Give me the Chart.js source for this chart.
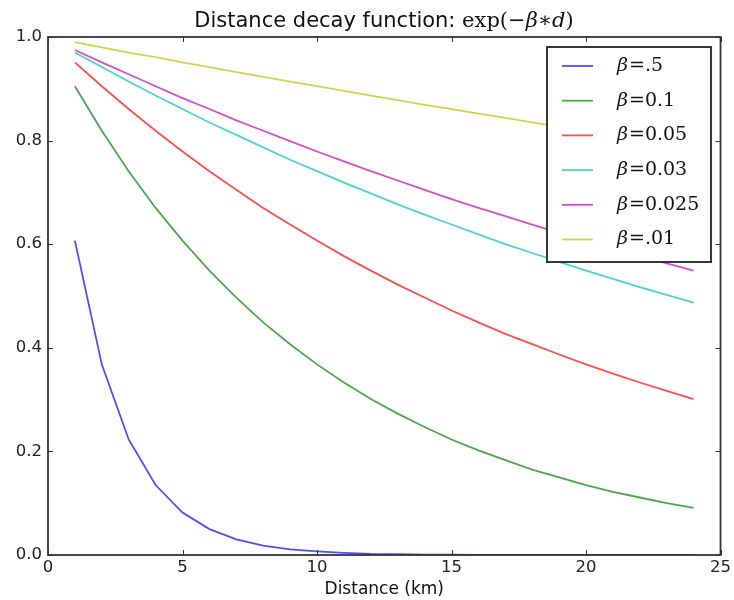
<!DOCTYPE html>
<html>
<head>
<meta charset="utf-8">
<script src="https://cdn.jsdelivr.net/npm/chart.js@4/dist/chart.umd.min.js"></script>
<style>
  html, body { margin: 0; padding: 0; background: #fff; }
  #wrap { width: 734px; height: 600px; }
</style>
</head>
<body>
<div id="wrap"><canvas id="chart"></canvas></div>
<script>
const distances = [1, 2, 3, 4, 5, 6, 7, 8, 9, 10, 11, 12, 13, 14, 15, 16, 17, 18, 19, 20, 21, 22, 23, 24];

const seriesLabels = ["β=.5", "β=0.1", "β=0.05", "β=0.03", "β=0.025", "β=.01"];

const beta050 = [0.607, 0.368, 0.223, 0.135, 0.082, 0.050, 0.030, 0.018, 0.011, 0.007, 0.004, 0.002,
  0.0015, 0.0009, 0.0006, 0.0003, 0.0002, 0.0001, 0.0001, 0, 0, 0, 0, 0];
const beta010 = [0.905, 0.819, 0.741, 0.670, 0.607, 0.549, 0.497, 0.449, 0.407, 0.368, 0.333, 0.301,
  0.273, 0.247, 0.223, 0.202, 0.183, 0.165, 0.150, 0.135, 0.122, 0.111, 0.100, 0.091];
const beta005 = [0.951, 0.905, 0.861, 0.819, 0.779, 0.741, 0.705, 0.670, 0.638, 0.607, 0.577, 0.549,
  0.522, 0.497, 0.472, 0.449, 0.427, 0.407, 0.387, 0.368, 0.350, 0.333, 0.317, 0.301];
const beta003 = [0.970, 0.942, 0.914, 0.887, 0.861, 0.835, 0.811, 0.787, 0.763, 0.741, 0.719, 0.698,
  0.677, 0.657, 0.638, 0.619, 0.600, 0.583, 0.566, 0.549, 0.533, 0.517, 0.502, 0.487];
const beta0025 = [0.975, 0.951, 0.928, 0.905, 0.882, 0.861, 0.839, 0.819, 0.799, 0.779, 0.760, 0.741,
  0.723, 0.705, 0.687, 0.670, 0.654, 0.638, 0.622, 0.607, 0.592, 0.577, 0.563, 0.549];
const beta001 = [0.990, 0.980, 0.970, 0.961, 0.951, 0.942, 0.932, 0.923, 0.914, 0.905, 0.896, 0.887,
  0.878, 0.869, 0.861, 0.852, 0.844, 0.835, 0.827, 0.819, 0.811, 0.803, 0.795, 0.787];

const xTicks = [0, 5, 10, 15, 20, 25];
const yTicks = [0.0, 0.2, 0.4, 0.6, 0.8, 1.0];

const colors = ["#4d4dff", "#4da64d", "#ff4d4d", "#4dd2d2", "#d24dd2", "#d2d24d"];
const allSeries = [beta050, beta010, beta005, beta003, beta0025, beta001];

const datasets = allSeries.map((values, i) => ({
  label: seriesLabels[i],
  data: values.map((v, j) => ({ x: distances[j], y: v })),
  borderColor: colors[i],
  borderWidth: 1.8,
  pointRadius: 0,
  fill: false,
  tension: 0,
}));

// draws the box, inward ticks, title and legend the way matplotlib does
const framePlugin = {
  id: "frame",
  afterDraw(chart) {
    const { ctx, chartArea: a, scales } = chart;
    ctx.save();

    ctx.strokeStyle = "#333";
    ctx.lineWidth = 1;
    const tl = 5;
    ctx.beginPath();
    xTicks.forEach((t) => {
      const px = Math.round(scales.x.getPixelForValue(t)) + 0.5;
      ctx.moveTo(px, a.bottom); ctx.lineTo(px, a.bottom - tl);
      ctx.moveTo(px, a.top); ctx.lineTo(px, a.top + tl);
    });
    yTicks.forEach((t) => {
      const py = Math.round(scales.y.getPixelForValue(t)) + 0.5;
      ctx.moveTo(a.left, py); ctx.lineTo(a.left + tl, py);
      ctx.moveTo(a.right, py); ctx.lineTo(a.right - tl, py);
    });
    ctx.stroke();

    ctx.lineWidth = 1.8;
    ctx.strokeStyle = "#333";
    ctx.strokeRect(a.left, a.top, a.right - a.left, a.bottom - a.top);

    // title: sans text followed by a math part
    const part1 = "Distance decay function: ";
    const sans = "21px 'DejaVu Sans'";
    const serif = "21px 'DejaVu Serif'";
    const serifIt = "italic 21px 'DejaVu Serif'";
    const mathParts = [["exp(−", serif], ["β", serifIt], ["∗", serif], ["d", serifIt], [")", serif]];
    ctx.font = sans;
    let w = ctx.measureText(part1).width;
    mathParts.forEach(([s, f]) => { ctx.font = f; w += ctx.measureText(s).width; });
    let x = 384 - w / 2;
    const ty = 27;
    ctx.fillStyle = "#111";
    ctx.textBaseline = "alphabetic";
    ctx.textAlign = "left";
    ctx.font = sans;
    ctx.fillText(part1, x, ty);
    x += ctx.measureText(part1).width;
    mathParts.forEach(([s, f]) => { ctx.font = f; ctx.fillText(s, x, ty); x += ctx.measureText(s).width; });

    // legend box
    const box = { x: 547, y: 47, w: 164, h: 215 };
    ctx.fillStyle = "#fff";
    ctx.fillRect(box.x, box.y, box.w, box.h);
    ctx.strokeStyle = "#222";
    ctx.lineWidth = 1.8;
    ctx.strokeRect(box.x, box.y, box.w, box.h);

    chart.data.datasets.forEach((ds, i) => {
      const cy = 66 + i * 34.7;
      ctx.strokeStyle = ds.borderColor;
      ctx.lineWidth = 1.8;
      ctx.beginPath();
      ctx.moveTo(562, cy);
      ctx.lineTo(593, cy);
      ctx.stroke();

      ctx.fillStyle = "#111";
      ctx.textBaseline = "middle";
      let lx = 617;
      ctx.font = "italic 19px 'DejaVu Serif'";
      ctx.fillText("β", lx, cy);
      lx += ctx.measureText("β").width + 1;
      ctx.font = "19px 'DejaVu Serif'";
      ctx.fillText(ds.label.slice(1), lx, cy);
    });

    ctx.restore();
  },
};

const chartConfig = {
  type: "line",
  data: { datasets },
  options: {
    responsive: true,
    maintainAspectRatio: false,
    animation: false,
    layout: { padding: { left: 0, top: 37, right: 12, bottom: 0 } },
    plugins: {
      legend: { display: false },
      title: { display: false },
      tooltip: { enabled: false },
    },
    scales: {
      x: {
        type: "linear",
        min: 0,
        max: 25,
        afterBuildTicks(scale) { scale.ticks = xTicks.map((v) => ({ value: v })); },
        afterFit(scale) { scale.height = 45; },
        grid: { display: false, drawTicks: false },
        border: { display: false },
        ticks: {
          color: "#222",
          font: { family: "'DejaVu Sans'", size: 16.5 },
          padding: 3,
          maxRotation: 0,
          callback: (v) => String(v),
        },
        title: {
          display: true,
          text: "Distance (km)",
          color: "#111",
          font: { family: "'DejaVu Sans'", size: 17 },
          padding: { top: 0, bottom: 0 },
        },
      },
      y: {
        type: "linear",
        min: 0,
        max: 1,
        afterBuildTicks(scale) { scale.ticks = yTicks.map((v) => ({ value: v })); },
        afterFit(scale) { scale.width = 48; },
        grid: { display: false, drawTicks: false },
        border: { display: false },
        ticks: {
          color: "#222",
          font: { family: "'DejaVu Sans'", size: 16.5 },
          padding: 6,
          callback: (v) => Number(v).toFixed(1),
        },
      },
    },
  },
  plugins: [framePlugin],
};

window.addEventListener("DOMContentLoaded", () => {
  const ctx = document.getElementById("chart");
  new Chart(ctx, chartConfig);
});
</script>
</body>
</html>
